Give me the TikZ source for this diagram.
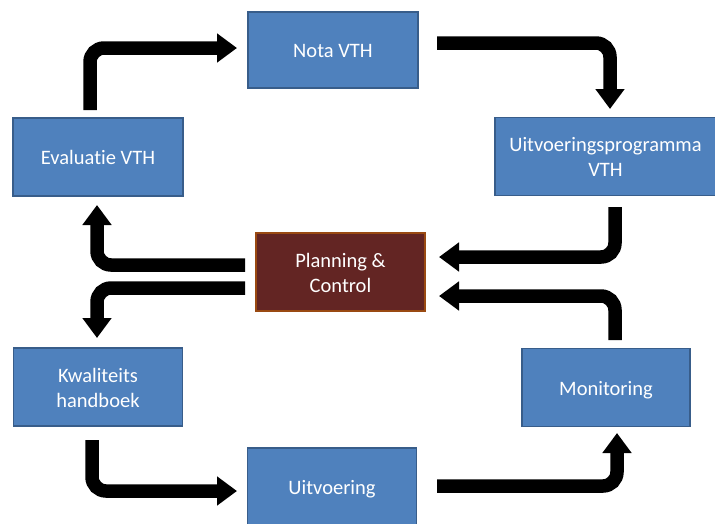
\documentclass[tikz,border=0pt]{standalone}
\usepackage{fontspec}
\setmainfont{Carlito}[Ligatures={NoCommon,NoRare,NoContextual}]
\usetikzlibrary{arrows.meta}
\definecolor{boxblue}{HTML}{4F81BD}
\definecolor{boxedge}{HTML}{385D8A}
\definecolor{pcfill}{HTML}{632523}
\definecolor{pcedge}{HTML}{9A4A12}
\newcommand{\ms}{\rule[-5pt]{0pt}{25pt}}
\tikzset{
  bluebox/.style={draw=boxedge, fill=boxblue, line width=1.5pt, text=white, align=center,
    inner sep=0pt, minimum height=78pt, font=\fontsize{20.5}{25}\selectfont},
  pcbox/.style={bluebox, draw=pcedge, fill=pcfill},
  bigarrow/.style={line width=13.5pt, rounded corners=14pt,
    -{Triangle[width=28pt,length=20pt]}, black},
}
\begin{document}
\begin{tikzpicture}[x=1pt,y=-1pt]
\useasboundingbox (0,0) rectangle (715,523);
\node[bluebox, minimum width=170pt, minimum height=76pt] (nota) at (333,50) {\ms Nota VTH};
\node[bluebox, minimum width=170pt] (eval) at (98,157) {\ms Evaluatie VTH};
\node[bluebox, minimum width=221pt] (prog) at (605.5,156.5) {\ms Uitvoeringsprogramma\\\ms VTH};
\node[pcbox, minimum width=169pt] (plan) at (340.5,272) {\ms Planning \&\\\ms Control};
\node[bluebox, minimum width=169pt] (kwal) at (98,387) {\ms Kwaliteits\\\ms handboek};
\node[bluebox, minimum width=168pt] (moni) at (606,387.5) {\ms Monitoring};
\node[bluebox, minimum width=169pt] (uitv) at (332,487) {\ms Uitvoering};

\coordinate (a1s) at (90,110);  \coordinate (a1e) at (237,48);
\coordinate (a2s) at (437,43);  \coordinate (a2e) at (610,109);
\coordinate (a3s) at (615,207); \coordinate (a3e) at (439,257);
\coordinate (a4s) at (615,340); \coordinate (a4e) at (439,296);
\coordinate (a5s) at (245,265); \coordinate (a5e) at (97,205);
\coordinate (a6s) at (245,288); \coordinate (a6e) at (97,338);
\coordinate (a7s) at (92,440);  \coordinate (a7e) at (237,491);
\coordinate (a8s) at (437,486); \coordinate (a8e) at (617,433);

\draw[bigarrow] (a1s) |- (a1e);
\draw[bigarrow] (a2s) -| (a2e);
\draw[bigarrow] (a3s) |- (a3e);
\draw[bigarrow] (a4s) |- (a4e);
\draw[bigarrow] (a5s) -| (a5e);
\draw[bigarrow] (a6s) -| (a6e);
\draw[bigarrow] (a7s) |- (a7e);
\draw[bigarrow] (a8s) -| (a8e);
\end{tikzpicture}
\end{document}
